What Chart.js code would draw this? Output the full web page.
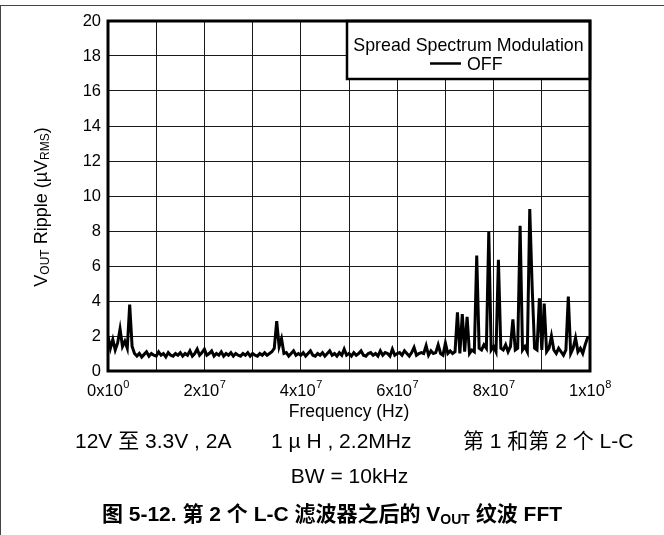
<!DOCTYPE html>
<html><head><meta charset="utf-8">
<script src="https://cdn.jsdelivr.net/npm/chart.js@4/dist/chart.umd.min.js"></script>
<style>
html,body{margin:0;padding:0;background:#fff;}
#wrap{position:relative;width:664px;height:535px;overflow:hidden;background:#fff;}
#c{position:absolute;left:0;top:0;}
.fr-top{position:absolute;left:0;top:5px;width:664px;height:0;border-top:1.5px solid #444;}
.fr-left{position:absolute;left:0;top:5px;width:0;height:530px;border-left:1.5px solid #444;}
.t{position:absolute;font-family:"Liberation Sans","Noto Sans CJK SC",sans-serif;color:#000;white-space:nowrap;font-size:21px;line-height:26px;}
.cap{font-weight:bold;font-size:21px;}
.cap sub{font-size:14px;vertical-align:-3px;line-height:0;}
</style></head><body>
<div id="wrap">
<canvas id="c" width="664" height="535"></canvas>
<div class="fr-top"></div><div class="fr-left"></div>
<div class="t" style="left:75px;top:428px;">12V 至 3.3V , 2A</div>
<div class="t" style="left:271px;top:428px;">1 µ H , 2.2MHz</div>
<div class="t" style="left:463px;top:428px;">第 1 和第 2 个 L-C</div>
<div class="t" style="left:0;width:699px;text-align:center;top:463px;">BW = 10kHz</div>
<div class="t cap" style="left:0;width:664px;text-align:center;top:501px;">图 5-12. 第 2 个 L-C 滤波器之后的 V<sub>OUT</sub> 纹波 FFT</div>
</div>
<script>
// Frequency in MHz
const freqMHz = [
0,0.5,1,1.5,2,2.5,3,3.5,4,4.5,
5,5.5,6,6.5,7,7.5,8,8.5,9,9.5,
10,10.5,11,11.5,12,12.5,13,13.5,14,14.5,
15,15.5,16,16.5,17,17.5,18,18.5,19,19.5,
20,20.5,21,21.5,22,22.5,23,23.5,24,24.5,
25,25.5,26,26.5,27,27.5,28,28.5,29,29.5,
30,30.5,31,31.5,32,32.5,33,33.5,34,34.5,
35,35.5,36,36.5,37,37.5,38,38.5,39,39.5,
40,40.5,41,41.5,42,42.5,43,43.5,44,44.5,
45,45.5,46,46.5,47,47.5,48,48.5,49,49.5,
50,50.5,51,51.5,52,52.5,53,53.5,54,54.5,
55,55.5,56,56.5,57,57.5,58,58.5,59,59.5,
60,60.5,61,61.5,62,62.5,63,63.5,64,64.5,
65,65.5,66,66.5,67,67.5,68,68.5,69,69.5,
70,70.5,71,71.5,72,72.5,73,73.5,74,74.5,
75,75.5,76,76.5,77,77.5,78,78.5,79,79.5,
80,80.5,81,81.5,82,82.5,83,83.5,84,84.5,
85,85.5,86,86.5,87,87.5,88,88.5,89,89.5,
90,90.5,91,91.5,92,92.5,93,93.5,94,94.5,
95,95.5,96,96.5,97,97.5,98,98.5,99,99.5,
100
];
// Ripple in µV RMS
const rippleUV = [
2.0,1.3,1.8,1.2,1.6,2.4,1.4,1.7,1.3,3.8,
1.4,1.0,0.85,1.0,0.8,0.95,1.1,0.85,1.0,0.9,
0.85,1.1,0.9,1.0,0.8,1.05,0.9,0.85,1.0,0.9,
1.05,0.85,1.0,0.9,1.15,0.85,1.0,1.25,0.9,1.05,
1.25,0.9,1.0,1.15,0.85,1.0,0.9,1.1,0.85,1.0,
0.9,1.05,0.85,1.0,0.9,0.85,1.0,0.9,1.05,0.85,
1.0,0.9,0.85,1.0,0.9,1.05,0.9,1.0,1.1,1.3,
2.85,1.4,1.85,1.0,1.05,0.85,1.0,1.15,0.9,1.0,
0.9,1.05,0.85,1.0,1.15,0.9,0.85,1.0,0.9,1.05,
0.85,1.0,1.15,0.9,1.0,0.85,1.05,0.9,1.25,0.9,
1.0,0.85,1.05,0.9,1.0,1.15,0.9,0.85,1.0,1.05,
0.9,1.0,0.85,1.15,0.9,1.05,1.0,0.85,1.25,0.9,
1.0,1.05,0.9,1.15,1.0,0.85,1.05,1.35,0.9,1.0,
1.05,1.0,1.45,0.9,1.15,1.0,1.05,1.5,1.0,0.9,
1.6,1.0,1.15,1.0,1.1,3.35,1.0,3.25,1.1,3.1,
1.0,1.2,1.1,6.6,1.3,1.2,1.5,1.3,7.95,1.2,
1.4,1.1,6.35,1.3,1.2,1.5,1.1,1.4,2.95,1.2,
1.3,8.3,1.2,1.4,1.1,9.25,4.8,1.3,1.2,4.15,
1.2,3.85,1.1,1.3,2.0,1.2,1.0,1.3,1.1,0.9,
1.2,4.25,1.0,1.3,1.9,1.1,1.3,1.0,1.5,1.9,
1.95
];
const xTickMantissa = ['0','2','4','6','8','1'];
const xTickExponent = ['0','7','7','7','7','8'];
const xTickValues = [0,2e7,4e7,6e7,8e7,1e8];
const yTickLabels = [0,2,4,6,8,10,12,14,16,18,20];

const FONT = '"Liberation Sans", Arial, sans-serif';
const points = freqMHz.map((f,i)=>({x:f*1e6,y:rippleUV[i]}));

const deco = {
  id:'deco',
  afterDraw(chart){
    const {ctx, chartArea:a, scales:{x}} = chart;
    ctx.save();
    // legend box
    const lx0=347, lx1=a.right, ly0=a.top, ly1=79;
    ctx.fillStyle='#fff';
    ctx.fillRect(lx0,ly0,lx1-lx0,ly1-ly0);
    ctx.strokeStyle='#000'; ctx.lineWidth=2.5;
    ctx.strokeRect(lx0,ly0,lx1-lx0,ly1-ly0);
    ctx.fillStyle='#000';
    ctx.font='17.8px '+FONT;
    ctx.textAlign='center'; ctx.textBaseline='middle';
    ctx.fillText('Spread Spectrum Modulation',(lx0+lx1)/2,46);
    ctx.textAlign='left';
    ctx.fillText('OFF',467,65.5);
    ctx.lineWidth=2.5;
    ctx.beginPath(); ctx.moveTo(430,63.5); ctx.lineTo(461,63.5); ctx.stroke();
    // plot border
    ctx.lineWidth=3;
    ctx.strokeRect(a.left,a.top,a.right-a.left,a.bottom-a.top);
    // x tick labels with superscripts
    const big='16.5px '+FONT, small='11px '+FONT;
    ctx.textBaseline='alphabetic';
    xTickValues.forEach((v,i)=>{
      ctx.font=big; const w1=ctx.measureText(xTickMantissa[i]+'x10').width;
      ctx.font=small; const w2=ctx.measureText(xTickExponent[i]).width;
      const px=x.getPixelForValue(v); const x0=px-(w1+w2)/2;
      ctx.font=big; ctx.textAlign='left';
      ctx.fillText(xTickMantissa[i]+'x10',x0,396);
      ctx.font=small; ctx.fillText(xTickExponent[i],x0+w1+0.5,388);
    });
    // x title
    ctx.font='17.5px '+FONT; ctx.textAlign='center'; ctx.textBaseline='middle';
    ctx.fillText('Frequency (Hz)',(a.left+a.right)/2,412);
    // y title
    const yb='18px '+FONT, ys='12px '+FONT;
    ctx.translate(42,207); ctx.rotate(-Math.PI/2);
    const parts=[['V',yb,0],['OUT',ys,4],[' Ripple (\u00b5V',yb,0],['RMS',ys,4],[')',yb,0]];
    let tw=0; parts.forEach(p=>{ctx.font=p[1]; tw+=ctx.measureText(p[0]).width;});
    let cx=-tw/2; ctx.textAlign='left'; ctx.textBaseline='middle';
    parts.forEach(p=>{ctx.font=p[1]; ctx.fillText(p[0],cx,p[2]); cx+=ctx.measureText(p[0]).width;});
    ctx.restore();
  }
};

new Chart(document.getElementById('c'),{
  type:'line',
  data:{datasets:[{data:points,borderColor:'#000',borderWidth:3,pointRadius:0,tension:0,fill:false}]},
  options:{
    responsive:false, animation:false, events:[],
    layout:{padding:{left:0,right:74,top:21,bottom:104}},
    plugins:{legend:{display:false},tooltip:{enabled:false}},
    scales:{
      x:{type:'linear',min:0,max:1e8,
        ticks:{stepSize:1e7,display:false},
        grid:{color:'#1a1a1a',lineWidth:1,drawTicks:false},
        border:{display:false},
        afterFit(s){s.height=60;}},
      y:{min:0,max:20,
        ticks:{stepSize:1,color:'#000',padding:7,font:{family:FONT,size:16.5},
          callback:v=>yTickLabels.includes(v)?String(v):''},
        grid:{color:'#1a1a1a',lineWidth:1,drawTicks:false},
        border:{display:false},
        afterFit(s){s.width=108;}}
    }
  },
  plugins:[deco]
});
</script>
</body></html>
